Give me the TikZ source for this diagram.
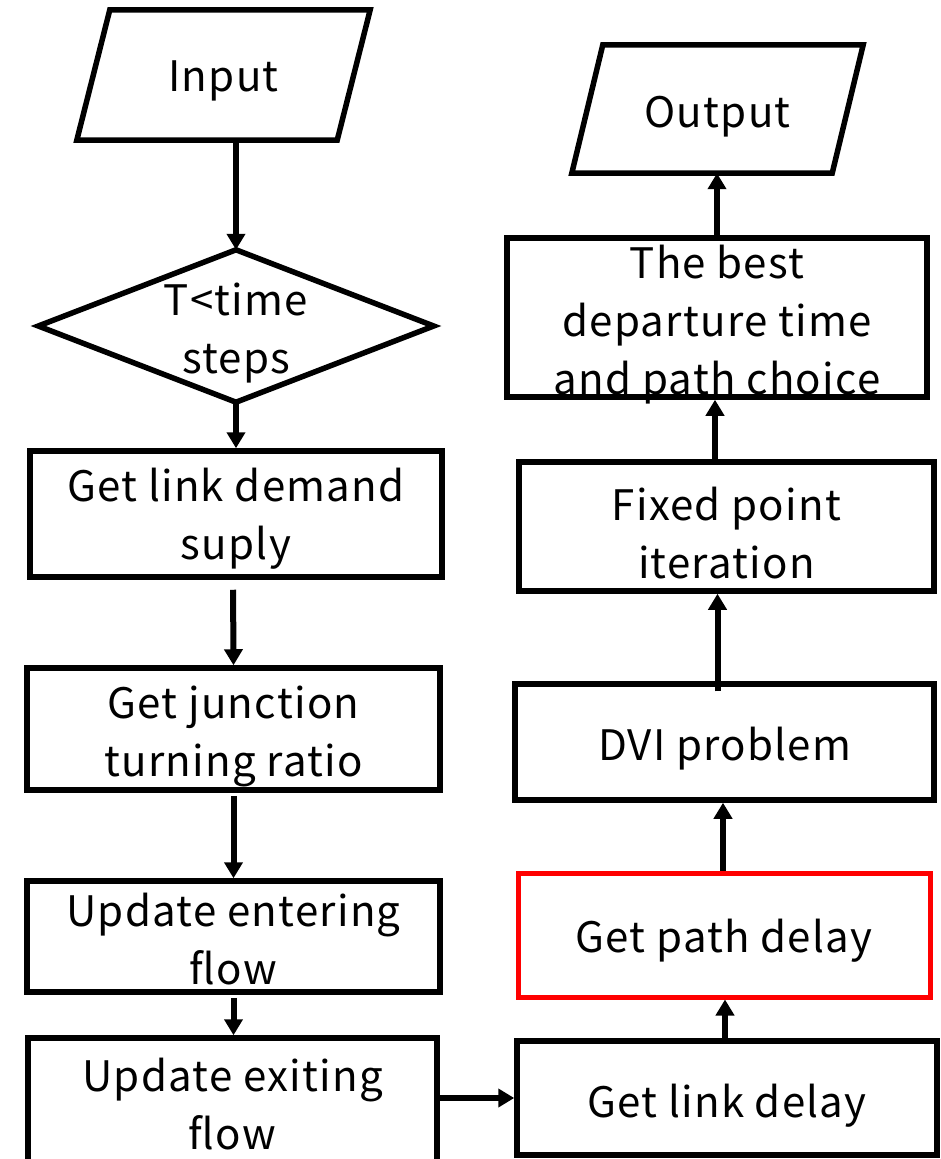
\documentclass[tikz,border=0pt]{standalone}
\usepackage{fontspec}
\setmainfont{Noto Sans CJK SC}[LetterSpace=3]
\usetikzlibrary{arrows.meta,calc}
\begin{document}
\begin{tikzpicture}[x=1pt,y=-1pt,
  every node/.style={inner sep=0pt},
  box/.style={draw=black, line width=5.5pt, rectangle},
  redbox/.style={draw=red, line width=5pt, rectangle},
  frame/.style={draw=none, rectangle},
  lbl/.style={font=\fontsize{42}{58}\selectfont, align=center, inner sep=0pt},
  shp/.style={draw=black, line width=5.5pt},
  arr/.style={line width=6pt, -{Triangle[width=18pt,length=16pt]}}
]
\clip (0,0) rectangle (940,1159);
\fill[white] (0,0) rectangle (940,1159);

% left column
\node[frame, minimum width=293pt, minimum height=130pt] (in) at (223.5,75) {};
\draw[shp] ([xshift=33pt]in.north west) -- (in.north east) -- ([xshift=-33pt]in.south east) -- (in.south west) -- cycle;
\node[lbl] (intx) at ([yshift=-6pt]in.center) {Input};

\node[frame, minimum width=395pt, minimum height=152pt] (dia) at (236,326) {};
\draw[shp] (dia.north) -- (dia.east) -- (dia.south) -- (dia.west) -- cycle;
\node[lbl] (diatx) at ([yshift=-7pt]dia.center) {T<time\\steps};

\node[box, minimum width=412pt, minimum height=126pt] (b1) at (236,514) {};
\node[lbl] (b1tx) at ([yshift=-5pt]b1.center) {Get link demand\\suply};
\node[box, minimum width=413pt, minimum height=122pt] (b2) at (233.5,729) {};
\node[lbl] (b2tx) at ([yshift=-7pt]b2.center) {Get junction\\turning ratio};
\node[box, minimum width=413pt, minimum height=111pt] (b3) at (233.5,936.5) {};
\node[lbl] (b3tx) at ([yshift=-3pt]b3.center) {Update entering\\flow};
\node[box, minimum width=409pt, minimum height=130pt] (b4) at (232.5,1103) {};
\node[lbl] (b4tx) at ([yshift=-1pt]b4.center) {Update exiting\\flow};

% right column
\node[frame, minimum width=291pt, minimum height=128pt] (out) at (717.5,109) {};
\draw[shp] ([xshift=31pt]out.north west) -- (out.north east) -- ([xshift=-31pt]out.south east) -- (out.south west) -- cycle;
\node[lbl] (outtx) at ([yshift=-8pt]out.center) {Output};

\node[box, minimum width=420pt, minimum height=159pt] (best) at (717,317.5) {};
\node[lbl] (besttx) at ([yshift=-7pt]best.center) {The best\\departure time\\and path choice};
\node[box, minimum width=415pt, minimum height=129pt] (fix) at (726.5,526.5) {};
\node[lbl] (fixtx) at ([yshift=-7pt]fix.center) {Fixed point\\iteration};
\node[box, minimum width=419pt, minimum height=116pt] (dvi) at (724.5,742) {};
\node[lbl] (dvitx) at ([yshift=-7pt]dvi.center) {DVI problem};
\node[redbox, minimum width=412pt, minimum height=124pt] (pd) at (724,935) {};
\node[lbl] (pdtx) at ([yshift=-6pt]pd.center) {Get path delay};
\node[box, minimum width=420pt, minimum height=114pt] (ld) at (727,1098) {};
\node[lbl] (ldtx) at ([yshift=-8pt]ld.center) {Get link delay};

% connectors
\draw[arr] (in.south -| dia.north) -- (dia.north);
\draw[arr] (dia.south) -- (dia.south |- b1.north);
\draw[arr, shorten <=10pt] ([xshift=-3pt]b1.south) -- (b2.north);
\draw[arr, shorten <=3pt] (b2.south) -- (b3.north);
\draw[arr, shorten <=3pt] (b3.south) -- (b3.south |- b4.north);
\draw[arr] (b4.east |- ld.west) -- (ld.west);
\draw[arr] ([xshift=-2pt]ld.north) -- ([xshift=-2pt]ld.north |- pd.south);
\draw[arr] ([xshift=-1pt]pd.north) -- ([xshift=-1pt]pd.north |- dvi.south);
\draw[arr] ([xshift=-7pt,yshift=-10pt]dvi.north) -- ([xshift=-7pt]dvi.north |- fix.south);
\draw[arr] ([xshift=-11.5pt]fix.north) -- ([xshift=-11.5pt]fix.north |- best.south);
\draw[arr] (best.north) -- (best.north |- out.south);
\end{tikzpicture}
\end{document}
